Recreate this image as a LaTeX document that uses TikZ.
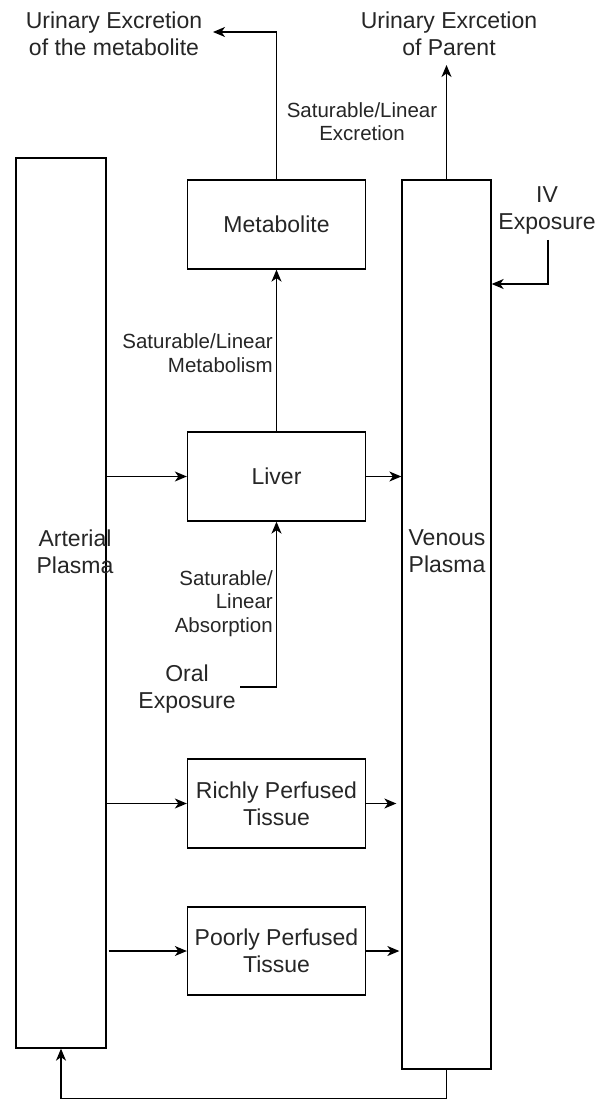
\documentclass[tikz,border=0pt]{standalone}
\usepackage{fontspec}
\setmainfont{Liberation Sans}
\usetikzlibrary{arrows.meta}
\tikzset{box/.style = {draw, line width=1.3pt, inner sep=0, align=center,
                       font=\fontsize{23}{27}\selectfont}}
\tikzset{big/.style = {align=center, inner sep=0, font=\fontsize{23}{27}\selectfont}}
\tikzset{small/.style = {inner sep=0, font=\fontsize{20.5}{23.5}\selectfont}}
\tikzset{arr/.style = {line width=1.3pt, -{Stealth[length=12pt,width=10pt,inset=3.5pt]}}}
\tikzset{ln/.style = {line width=1.3pt}}

\begin{document}
\begin{tikzpicture}[x=1pt,y=-1pt,text=black!85]
      \useasboundingbox[fill=white] (0,0) rectangle (600,1099);

      \node[box, minimum width=90, minimum height=890] (arterial) at (61,603) {};
      \node[box, minimum width=89, minimum height=889] (venous) at (446.5,624.5) {};
      \node[box, minimum width=178, minimum height=89] (metab) at (276.5,224.5) {Metabolite};
      \node[box, minimum width=178, minimum height=89] (liver) at (276.5,476.5) {Liver};
      \node[box, minimum width=178, minimum height=89] (richly) at (276.5,803.5) {Richly Perfused\\Tissue};
      \node[box, minimum width=178, minimum height=88] (poorly) at (276.5,951) {Poorly Perfused\\Tissue};

      \node[big] (artlab) at (75,551.5) {Arterial\\Plasma};
      \node[big] (venlab) at (447,551.5) {Venous\\Plasma};
      \node[big] (urmet) at (114,33.5) {Urinary Excretion\\of the metabolite};
      \node[big] (urpar) at (449,33.5) {Urinary Exrcetion\\of Parent};
      \node[big] (iv) at (547,210.5) {IV\\Exposure};
      \node[big] (oral) at (187,689) {Oral\\Exposure};
      \node[small, align=center] (exclab) at (362,121.5) {Saturable/Linear\\Excretion};
      \node[small, align=right, anchor=east] (metlab) at (273,353) {Saturable/Linear\\Metabolism};
      \node[small, align=right, anchor=east] (abslab) at (273,603.5) {Saturable/\\Linear\\Absorption};

      \coordinate (metout) at (213,32);
      \coordinate (parout) at (446.5,65);
      \coordinate (ivstart) at (548,240);
      \coordinate (ivy) at (0,284);
      \coordinate (oralstart) at (240,687);

      \draw[arr] (liver.west -| arterial.east) -- (liver.west);
      \draw[arr] (liver.east) -- (liver.east -| venous.west);
      \draw[arr] (richly.west -| arterial.east) -- (richly.west);
      \draw[arr, shorten >=5pt] (richly.east) -- (richly.east -| venous.west);
      \draw[arr, shorten <=2pt] (poorly.west -| arterial.east) -- (poorly.west);
      \draw[arr, shorten >=2pt] (poorly.east) -- (poorly.east -| venous.west);
      \draw[arr] (liver.north) -- (metab.south);
      \draw[arr] (metab.north) |- (metout);
      \draw[arr] (venous.north) -- (parout);
      \draw[arr] (ivstart) |- (venous.east |- ivy);
      \draw[arr] (oralstart) -| (liver.south);
      \draw[arr] (venous.south) -- ++(0,29) -| (arterial.south);
\end{tikzpicture}
\end{document}
